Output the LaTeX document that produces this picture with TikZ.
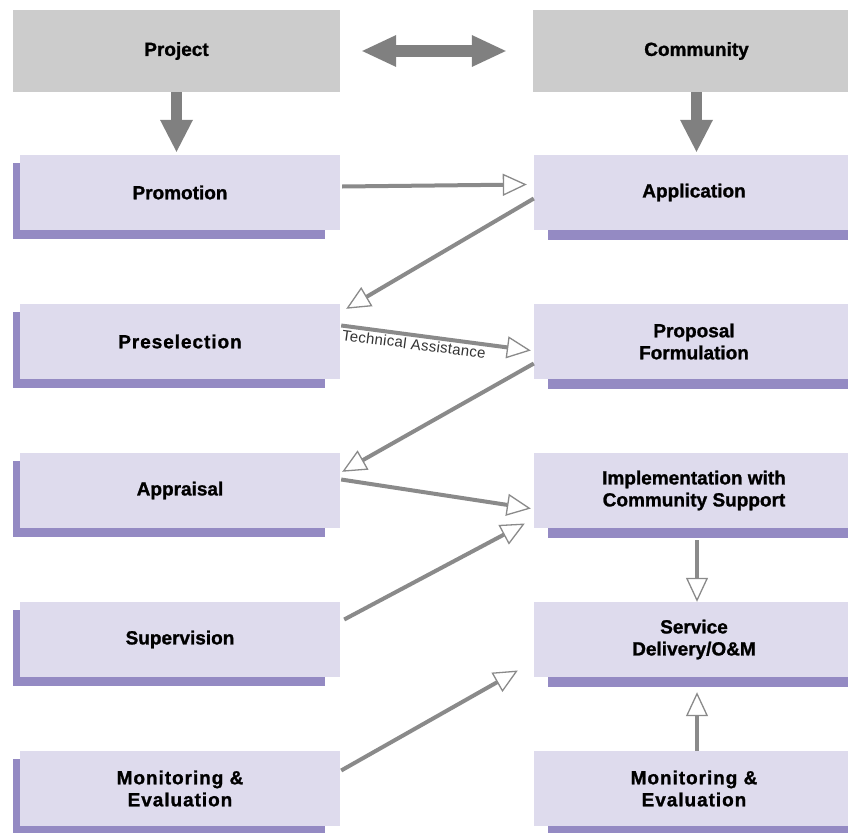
\documentclass[tikz,border=0pt]{standalone}
\usepackage{fontspec}
\setmainfont{Liberation Sans}
\usetikzlibrary{arrows.meta,positioning,backgrounds}
\definecolor{boxfill}{HTML}{DEDBED}
\definecolor{boxshade}{HTML}{948AC3}
\definecolor{topfill}{HTML}{CCCCCC}
\definecolor{linegray}{HTML}{8A8A8A}
\definecolor{biggray}{HTML}{808080}
\tikzset{basic/.style={rectangle,inner sep=0pt,align=center,font=\bfseries\fontsize{19}{22}\selectfont\addfontfeature{FakeBold=1.2}}}
\tikzset{topbox/.style={basic,fill=topfill,minimum width=327pt,minimum height=82pt}}
\tikzset{stage/.style={basic,fill=boxfill,minimum width=320pt,minimum height=75pt}}
\tikzset{spaced/.style={font=\bfseries\fontsize{19}{22}\selectfont\addfontfeature{FakeBold=1.2,LetterSpace=5}}}
\tikzset{flow/.style={draw=linegray,line width=4pt,-{Triangle[length=24pt,width=22pt,fill=white,line width=1.3pt]}}}
\tikzset{bigarrow/.style={draw=biggray,line width=11pt,-{Triangle[length=32pt,width=33pt,line width=0pt]}}}
\tikzset{twoway/.style={draw=biggray,line width=12pt,{Triangle[length=34pt,width=32pt,line width=0pt]}-{Triangle[length=34pt,width=32pt,line width=0pt]}}}
\tikzset{lshade/.style={fill=boxshade}}
\tikzset{rshade/.style={fill=boxshade}}
\tikzset{tech/.style={font=\fontsize{15}{15}\selectfont\addfontfeature{LetterSpace=2},text=black!80,inner sep=1.5pt}}

\begin{document}
\begin{tikzpicture}[x=1pt,y=-1pt,node distance=149pt,auto]
    \useasboundingbox (0,0) rectangle (848,832);

    \node[topbox] (project) at (176.5,51) {Project};
    \node[topbox,right of=project,node distance=520pt] (community) {Community};

    % project side
    \node[stage] (promo) at (180,192.5) {Promotion};
    \node[stage,spaced,below of=promo] (presel) {Preselection};
    \node[stage,below of=presel] (appr) {Appraisal};
    \node[stage,below of=appr] (superv) {Supervision};
    \node[stage,spaced,below of=superv] (monl) {Monitoring \&\\Evaluation};

    % community side
    \node[stage,right of=promo,node distance=514pt] (appl) {Application};
    \node[stage,below of=appl] (prop) {Proposal\\Formulation};
    \node[stage,below of=prop] (impl) {Implementation with\\Community Support};
    \node[stage,below of=impl] (serv) {Service\\Delivery/O\&M};
    \node[stage,spaced,below of=serv] (monr) {Monitoring \&\\Evaluation};

    \begin{scope}[on background layer]
        \foreach \n in {promo,presel,appr,superv,monl}
            \fill[lshade] ([shift={(-7,9)}]\n.south west) rectangle ([shift={(-15,8)}]\n.north east);
        \foreach \n in {appl,prop,impl,serv,monr}
            \fill[rshade] ([shift={(14,0)}]\n.south west) rectangle ([shift={(14,10)}]\n.south east);
    \end{scope}

        \path[twoway,shorten <=22pt,shorten >=27pt] (project.east) -- (community.west);
        \path[bigarrow] (project.south) -- ([yshift=3pt]project.south |- promo.north);
        \path[bigarrow] (community.south) -- ([yshift=3pt]community.south |- appl.north);

        \path[flow] ([shift={(2,-6)}]promo.east) -- ([shift={(-7,-8)}]appl.west);
        \path[flow] ([shift={(0,6)}]appl.west) -- ([shift={(6,5)}]presel.north east);
        \path[flow] ([shift={(1,-16)}]presel.east) -- node[tech,pos=0.39,sloped,below] {Technical Assistance} ([shift={(-3,9)}]prop.west);
        \path[flow] ([shift={(0,22)}]prop.west) -- ([shift={(2,19)}]appr.north east);
        \path[flow] ([shift={(1,-11)}]appr.east) -- ([shift={(-3,18)}]impl.west);
        \path[flow] ([shift={(4,-20)}]superv.east) -- ([shift={(-9,33)}]impl.west);
        \path[flow] ([shift={(1,-18)}]monl.east) -- ([shift={(-16,31)}]serv.west);
        \path[flow] ([shift={(3,12)}]impl.south) -- ([shift={(3,0)}]serv.north);
        \path[flow] ([shift={(3,0)}]monr.north) -- ([shift={(3,15)}]serv.south);
  \end{tikzpicture}
\end{document}
